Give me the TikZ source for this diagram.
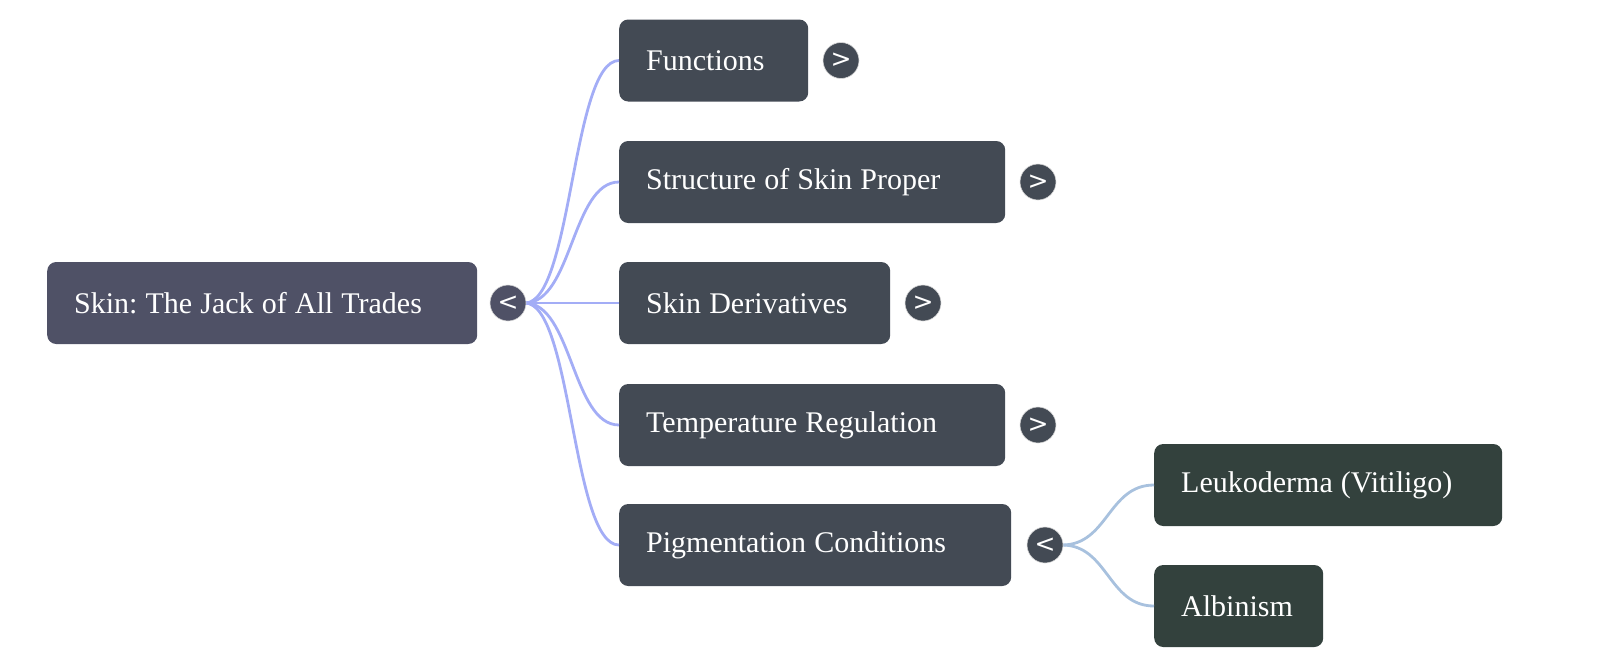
\documentclass[tikz,border=0pt]{standalone}
\usepackage{fontspec}
\usetikzlibrary{calc}
\setmainfont{Liberation Serif}
\newfontfamily\togglefont{DejaVu Sans}
\frenchspacing
\newcommand\myboxspacing{\spaceskip=0.27em plus 0.1em\relax}
\definecolor{rootfill}{HTML}{4F5166}
\definecolor{midfill}{HTML}{434A54}
\definecolor{leaffill}{HTML}{33413D}
\definecolor{edgeone}{HTML}{A3ADF6}
\definecolor{edgetwo}{HTML}{A8C1DE}
\tikzset{
  box/.style={rectangle, rounded corners=9pt, anchor=west, minimum height=82pt,
    inner xsep=27pt, inner ysep=0pt, align=left, text=white,
    font=\fontsize{30}{34}\selectfont\frenchspacing,
    execute at begin node=\myboxspacing},
  rootbox/.style={box, fill=rootfill},
  midbox/.style={box, fill=midfill},
  leafbox/.style={box, fill=leaffill},
  toggle/.style={circle, minimum size=36pt, inner sep=0pt, text=white,
    draw=white!85!black, line width=0.6pt, font=\togglefont\fontsize{25}{25}\selectfont},
  linkone/.style={draw=edgeone, line width=2.8pt},
  linktwo/.style={draw=edgetwo, line width=2.8pt},
}
\begin{document}
\begin{tikzpicture}[x=1pt,y=-1pt]
\useasboundingbox (0,0) rectangle (1600,667);
% nodes
\node[rootbox, text width=376pt] (root) at (47,303) {Skin: The Jack of All Trades};
\node[midbox, text width=135pt] (fun) at (619,60.5) {Functions};
\node[midbox, text width=332pt] (str) at (619,182) {Structure of Skin Proper};
\node[midbox, text width=217pt] (der) at (619,303) {Skin Derivatives};
\node[midbox, text width=332pt] (tem) at (619,425) {Temperature Regulation};
\node[midbox, text width=338pt] (pig) at (619,545) {Pigmentation Conditions};
\node[leafbox, text width=294pt] (leu) at (1154,485) {Leukoderma (Vitiligo)};
\node[leafbox, text width=115pt] (alb) at (1154,606) {Albinism};
% connectors
\coordinate (rs) at (525,303);
\foreach \t in {fun,str,der,tem,pig}{
  \path[linkone] (rs) .. controls (572,303) and ($(\t.west)+(-47,0)$) .. (\t.west);
}
\coordinate (ps) at (1062,545);
\foreach \t in {leu,alb}{
  \path[linktwo] (ps) .. controls (1108,545) and ($(\t.west)+(-46,0)$) .. (\t.west);
}
% toggles
\node[toggle, fill=rootfill] (troot) at (508,303) {<};
\node[toggle, fill=midfill] (tfun) at (841,60.5) {>};
\node[toggle, fill=midfill] (tstr) at (1038,182) {>};
\node[toggle, fill=midfill] (tder) at (923,303) {>};
\node[toggle, fill=midfill] (ttem) at (1038,425) {>};
\node[toggle, fill=midfill] (tpig) at (1045,545) {<};
\end{tikzpicture}
\end{document}
